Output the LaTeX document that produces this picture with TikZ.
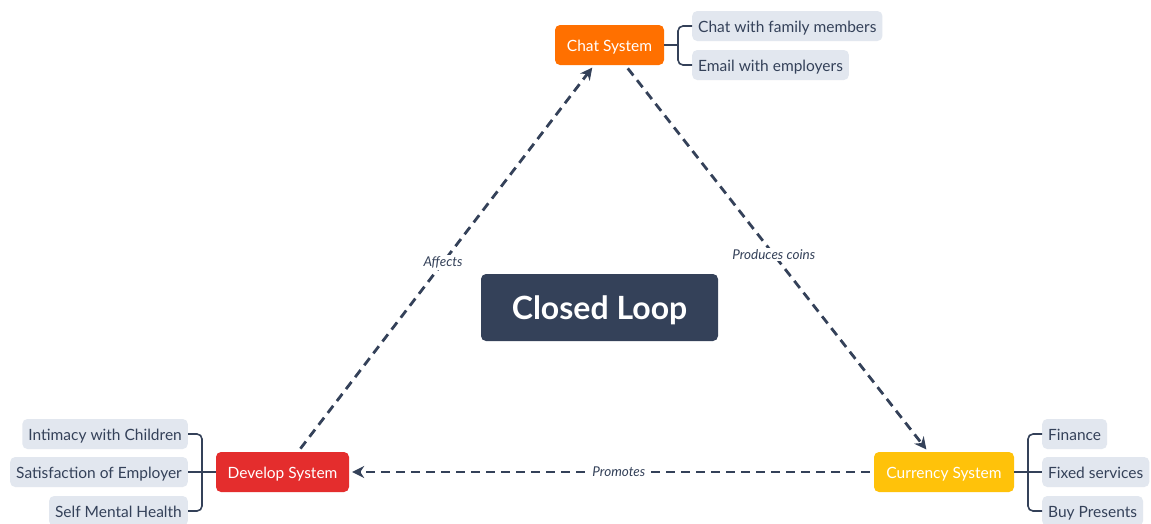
\documentclass[tikz,border=0pt]{standalone}
\usepackage{fontspec}
\setmainfont{Lato}
\usetikzlibrary{arrows.meta}
\definecolor{dark}{HTML}{344159}
\definecolor{leaffill}{HTML}{E2E7EF}
\definecolor{chatc}{HTML}{FF7000}
\definecolor{devc}{HTML}{E42D2D}
\definecolor{curc}{HTML}{FFC20A}
\tikzset{
  mainbox/.style={rounded corners=5pt, minimum height=40pt, text=white, font=\fontsize{15.5}{17}\selectfont, inner xsep=0pt, text height=13pt, text depth=1pt},
  leaf/.style={fill=leaffill, rounded corners=5pt, minimum height=30pt, text=dark, font=\fontsize{15.5}{17}\selectfont, inner xsep=6pt, text height=13pt, text depth=1pt},
  flow/.style={draw=dark, line width=2.8pt, dash pattern=on 9pt off 6pt, -{Stealth[length=12pt,width=12pt]}, shorten >=3pt, shorten <=4pt},
  flowlabel/.style={fill=white, inner sep=1.5pt, text=dark, font=\fontsize{13.5}{15}\selectfont\itshape},
  bracket/.style={draw=dark, line width=1.6pt, rounded corners=5pt}
}
\begin{document}
\begin{tikzpicture}[x=1pt,y=-1pt]
\useasboundingbox (0,0) rectangle (1151,523);
\fill[white] (0,0) rectangle (1151,523);

\node[mainbox, fill=dark, minimum width=237pt, minimum height=67pt, font=\fontsize{32}{36}\selectfont\bfseries, text height=25pt, text depth=2pt] (loop) at (599.5,307.5) {Closed Loop};

\node[mainbox, fill=chatc, minimum width=109pt] (chat) at (609.5,45) {Chat System};
\node[mainbox, fill=devc, minimum width=133pt] (dev) at (282.5,472) {Develop System};
\node[mainbox, fill=curc, minimum width=140pt] (cur) at (944,472) {Currency System};

% chat leaves
\node[leaf, anchor=west] (c1) at (692,26) {Chat with family members};
\node[leaf, anchor=west] (c2) at (692,65) {Email with employers};
\coordinate (cb) at (678,45);
\draw[bracket] (chat.east) -- (cb);
\draw[bracket] (cb) |- (c1.west);
\draw[bracket] (cb) |- (c2.west);

% develop leaves
\node[leaf, anchor=east] (d1) at (188,434) {Intimacy with Children};
\node[leaf, anchor=east] (d2) at (188,472) {Satisfaction of Employer};
\node[leaf, anchor=east] (d3) at (188,511) {Self Mental Health};
\coordinate (db) at (202,472);
\draw[bracket] (dev.west) -- (d2.east);
\draw[bracket] (db) |- (d1.east);
\draw[bracket] (db) |- (d3.east);

% currency leaves
\node[leaf, anchor=west] (u1) at (1042,434) {Finance};
\node[leaf, anchor=west] (u2) at (1042,472) {Fixed services};
\node[leaf, anchor=west] (u3) at (1042,511) {Buy Presents};
\coordinate (ub) at (1028,472);
\draw[bracket] (cur.east) -- (u2.west);
\draw[bracket] (ub) |- (u1.west);
\draw[bracket] (ub) |- (u3.west);

% flows
\draw[flow] (dev) -- node[flowlabel, pos=0.49] {Affects} (chat);
\draw[flow] (chat) -- node[flowlabel, pos=0.49] {Produces coins} (cur);
\draw[flow] (cur) -- node[flowlabel, pos=0.486] {Promotes} (dev);
\end{tikzpicture}
\end{document}
